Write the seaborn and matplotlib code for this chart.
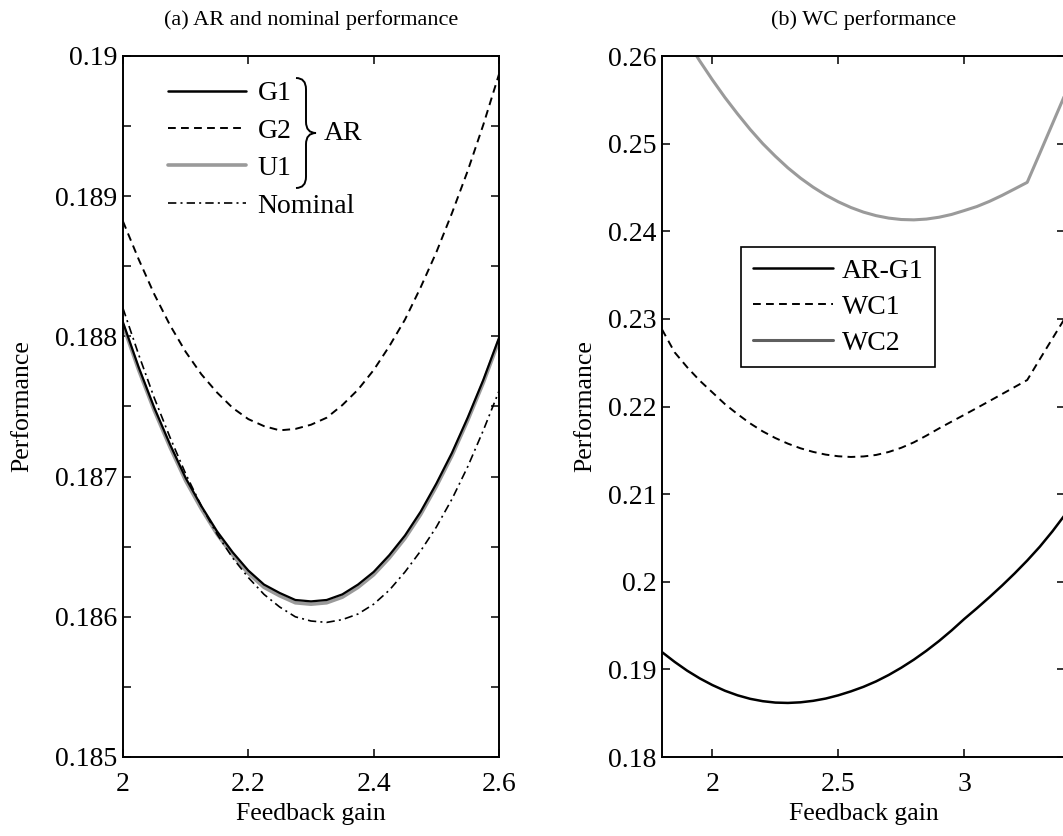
import numpy as np
import pandas as pd
import matplotlib
matplotlib.use("Agg")
import matplotlib.pyplot as plt
import seaborn as sns
from matplotlib.path import Path
from matplotlib.patches import PathPatch
from matplotlib.lines import Line2D
from matplotlib.ticker import MultipleLocator, FixedLocator

# ---------------- data: panel (a) ----------------
gain_a = [2.000, 2.025, 2.050, 2.075, 2.100, 2.125, 2.150, 2.175, 2.200, 2.225, 2.250, 2.275,
          2.300, 2.325, 2.350, 2.375, 2.400, 2.425, 2.450, 2.475, 2.500, 2.525, 2.550, 2.575, 2.600]
ar_g1 = [0.18810, 0.18778, 0.18749, 0.18723, 0.18699, 0.18679, 0.18661, 0.18646, 0.18633,
         0.18623, 0.18617, 0.18612, 0.18611, 0.18612, 0.18616, 0.18623, 0.18632, 0.18644,
         0.18658, 0.18675, 0.18695, 0.18717, 0.18742, 0.18769, 0.18799]
ar_g2 = [0.18882, 0.18855, 0.18830, 0.18808, 0.18789, 0.18773, 0.18760, 0.18749, 0.18741,
         0.18736, 0.18733, 0.18734, 0.18737, 0.18742, 0.18751, 0.18762, 0.18776, 0.18793,
         0.18812, 0.18835, 0.18860, 0.18888, 0.18918, 0.18951, 0.18987]
ar_u1 = [0.18808, 0.18776, 0.18747, 0.18721, 0.18697, 0.18677, 0.18659, 0.18644, 0.18631,
         0.18621, 0.18615, 0.18610, 0.18609, 0.18610, 0.18614, 0.18621, 0.18630, 0.18642,
         0.18656, 0.18673, 0.18693, 0.18715, 0.18740, 0.18767, 0.18797]
nominal = [0.18820, 0.18787, 0.18756, 0.18728, 0.18702, 0.18679, 0.18659, 0.18642, 0.18628,
           0.18616, 0.18607, 0.18600, 0.18597, 0.18596, 0.18598, 0.18602, 0.18609, 0.18619,
           0.18632, 0.18647, 0.18664, 0.18684, 0.18707, 0.18733, 0.18761]

# ---------------- data: panel (b) ----------------
gain_b = [1.80, 1.85, 1.90, 1.95, 2.00, 2.05, 2.10, 2.15, 2.20, 2.25, 2.30, 2.35,
          2.40, 2.45, 2.50, 2.55, 2.60, 2.65, 2.70, 2.75, 2.80, 2.85, 2.90, 2.95,
          3.00, 3.05, 3.10, 3.15, 3.20, 3.25, 3.30, 3.35, 3.40]
b_ar_g1 = [0.19197, 0.19086, 0.18985, 0.18897, 0.18821, 0.18756, 0.18704, 0.18664,
           0.18637, 0.18621, 0.18617, 0.18624, 0.18641, 0.18667, 0.18704, 0.18749,
           0.18801, 0.18863, 0.18936, 0.19019, 0.19111, 0.19213, 0.19324, 0.19445,
           0.19575, 0.19697, 0.19824, 0.19956, 0.20095, 0.20242, 0.20400, 0.20575,
           0.20765]
b_wc1 = [0.22880, 0.22619, 0.22448, 0.22295, 0.22161, 0.22027, 0.21913, 0.21807,
         0.21716, 0.21640, 0.21576, 0.21523, 0.21482, 0.21451, 0.21432, 0.21424,
         0.21430, 0.21447, 0.21481, 0.21529, 0.21591, 0.21668, 0.21750, 0.21828,
         0.21905, 0.21983, 0.22062, 0.22142, 0.22222, 0.22302, 0.22540, 0.22775,
         0.23010]
b_wc2 = [0.26680, 0.26419, 0.26174, 0.25943, 0.25728, 0.25526, 0.25339, 0.25162,
         0.25000, 0.24856, 0.24723, 0.24606, 0.24503, 0.24413, 0.24336, 0.24271,
         0.24218, 0.24178, 0.24150, 0.24134, 0.24130, 0.24139, 0.24160, 0.24192,
         0.24236, 0.24282, 0.24341, 0.24409, 0.24483, 0.24558, 0.24890, 0.25225,
         0.25560]

legend_a = ["G1", "G2", "U1", "Nominal"]
legend_b = ["AR-G1", "WC1", "WC2"]
xticks_a = [2.0, 2.2, 2.4, 2.6]
xticklabels_a = ["2", "2.2", "2.4", "2.6"]
yticks_a = [0.185, 0.186, 0.187, 0.188, 0.189, 0.190]
yticklabels_a = ["0.185", "0.186", "0.187", "0.188", "0.189", "0.19"]
xticks_b = [2.0, 2.5, 3.0]
xticklabels_b = ["2", "2.5", "3"]
yticks_b = [0.18, 0.19, 0.20, 0.21, 0.22, 0.23, 0.24, 0.25, 0.26]
yticklabels_b = ["0.18", "0.19", "0.2", "0.21", "0.22", "0.23", "0.24", "0.25", "0.26"]

# ---------------- style ----------------
sns.set_theme(style="ticks")
plt.rcParams["font.family"] = ["Liberation Serif", "DejaVu Serif"]
plt.rcParams["axes.linewidth"] = 1.4
for k in ("text.color", "axes.labelcolor", "xtick.color", "ytick.color", "axes.edgecolor"):
    plt.rcParams[k] = "black"
FS_TICK = 20
FS_LAB = 18.5
FS_LEG = 20
FS_TITLE = 16

GRAY = "#9a9a9a"
DASH = (0, (4.0, 2.7))
DASHDOT = (0, (5.0, 2.5, 1.2, 2.5))

fig = plt.figure(figsize=(10.63, 8.36), dpi=100)
W, H = 1063, 836
ax1 = fig.add_axes([123 / W, 1 - 757 / H, (499 - 123) / W, 701 / H])
ax2 = fig.add_axes([662 / W, 1 - 757 / H, (1065 - 662) / W, 701 / H])

# ---------------- panel (a) ----------------
da = pd.DataFrame({"gain": gain_a, "G1": ar_g1, "G2": ar_g2, "U1": ar_u1, "Nominal": nominal})
sns.lineplot(data=da, x="gain", y="U1", ax=ax1, color=GRAY, lw=2.6, sort=False)
sns.lineplot(data=da, x="gain", y="G1", ax=ax1, color="black", lw=1.6, sort=False)
sns.lineplot(data=da, x="gain", y="G2", ax=ax1, color="black", lw=1.4, linestyle=DASH, sort=False)
sns.lineplot(data=da, x="gain", y="Nominal", ax=ax1, color="black", lw=1.2, linestyle=DASHDOT, sort=False)

ax1.set_xlim(2.0, 2.6)
ax1.set_ylim(0.185, 0.190)
ax1.xaxis.set_major_locator(FixedLocator(xticks_a))
ax1.set_xticklabels(xticklabels_a)
ax1.yaxis.set_major_locator(FixedLocator(yticks_a))
ax1.set_yticklabels(yticklabels_a)
ax1.yaxis.set_minor_locator(MultipleLocator(0.0005))

h_a = [Line2D([], [], color="black", lw=1.8),
       Line2D([], [], color="black", lw=1.4, linestyle=DASH),
       Line2D([], [], color=GRAY, lw=2.6),
       Line2D([], [], color="black", lw=1.2, linestyle=DASHDOT)]
ax1.legend(h_a, legend_a, loc="upper left", bbox_to_anchor=((168 - 123) / 376, 1 - (81 - 56) / 701),
           frameon=False, fontsize=FS_LEG, handlelength=2.8, handletextpad=0.42,
           labelspacing=0.43, borderpad=0, borderaxespad=0)

# brace for AR group
def brace(ax, xl, xr, yt, yb, r=0.016):
    xm = (xl + xr) / 2
    ym = (yt + yb) / 2
    verts = [(xl, yt), (xm, yt), (xm, yt - r), (xm, ym + r), (xm, ym), (xr, ym),
             (xm, ym), (xm, ym - r), (xm, yb + r), (xm, yb), (xl, yb)]
    codes = [Path.MOVETO, Path.CURVE3, Path.CURVE3, Path.LINETO, Path.CURVE3, Path.CURVE3,
             Path.CURVE3, Path.CURVE3, Path.LINETO, Path.CURVE3, Path.CURVE3]
    ax.add_patch(PathPatch(Path(verts, codes), transform=ax.transAxes, fill=False,
                           lw=1.4, edgecolor="black", clip_on=False))

brace(ax1, (296 - 123) / 376, (316 - 123) / 376, 1 - (78 - 56) / 701, 1 - (188 - 56) / 701)
ax1.text((324 - 123) / 376, 1 - (133 - 56) / 701, "AR", transform=ax1.transAxes,
         ha="left", va="center", fontsize=FS_LEG)

ax1.set_title("(a) AR and nominal performance", fontsize=FS_TITLE, pad=22)
ax1.set_xlabel("Feedback gain", fontsize=FS_LAB)
ax1.set_ylabel("Performance", fontsize=FS_LAB)
ax1.yaxis.set_label_coords((33 - 123) / 376, 0.5)
ax1.xaxis.set_label_coords(0.5, -(803 - 757) / 701)

# ---------------- panel (b) ----------------
db = pd.DataFrame({"gain": gain_b, "AR-G1": b_ar_g1, "WC1": b_wc1, "WC2": b_wc2})
sns.lineplot(data=db, x="gain", y="WC2", ax=ax2, color=GRAY, lw=2.2, sort=False)
sns.lineplot(data=db, x="gain", y="WC1", ax=ax2, color="black", lw=1.4, linestyle=DASH, sort=False)
sns.lineplot(data=db, x="gain", y="AR-G1", ax=ax2, color="black", lw=1.8, sort=False)

ax2.set_xlim(1.8, 3.4)
ax2.set_ylim(0.18, 0.26)
ax2.xaxis.set_major_locator(FixedLocator(xticks_b))
ax2.set_xticklabels(xticklabels_b)
ax2.yaxis.set_major_locator(FixedLocator(yticks_b))
ax2.set_yticklabels(yticklabels_b)

h_b = [Line2D([], [], color="black", lw=1.8),
       Line2D([], [], color="black", lw=1.4, linestyle=DASH),
       Line2D([], [], color="#5f5f5f", lw=2.2)]
leg = ax2.legend(h_b, legend_b, loc="upper left",
                 bbox_to_anchor=((741 - 662) / 403, 1 - (247 - 56) / 701),
                 frameon=True, fancybox=False, framealpha=1, edgecolor="black",
                 fontsize=FS_LEG, handlelength=2.9, handletextpad=0.3,
                 labelspacing=0.37, borderpad=0.42, borderaxespad=0)
leg.get_frame().set_linewidth(1.2)

ax2.set_title("(b) WC performance", fontsize=FS_TITLE, pad=22)
ax2.set_xlabel("Feedback gain", fontsize=FS_LAB)
ax2.set_ylabel("Performance", fontsize=FS_LAB)
ax2.yaxis.set_label_coords((596 - 662) / 403, 0.5)
ax2.xaxis.set_label_coords(0.5, -(803 - 757) / 701)

for ax in (ax1, ax2):
    ax.tick_params(which="both", direction="in", length=6, width=1.1, top=True, right=True,
                   labelsize=FS_TICK, colors="black")
    ax.tick_params(axis="x", pad=11)
    ax.tick_params(axis="y", pad=4)
    for s in ax.spines.values():
        s.set_visible(True)
        s.set_color("black")
        s.set_linewidth(1.4)
    ax.grid(False)
    ax.set_facecolor("white")

fig.savefig("out.png", dpi=100, facecolor="white")
